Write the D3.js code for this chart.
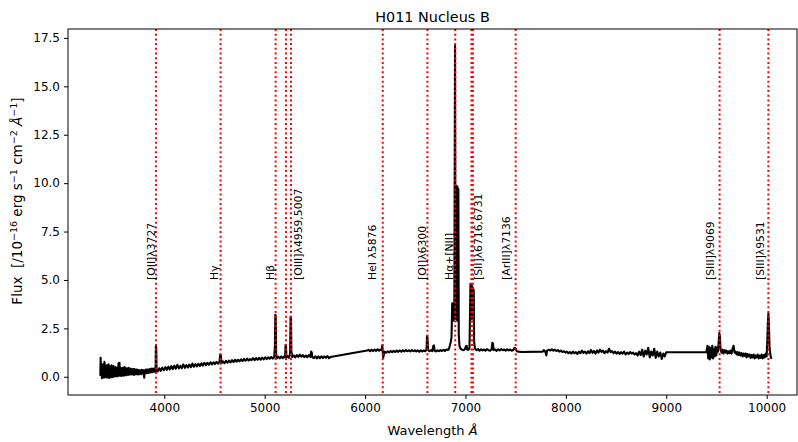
<!DOCTYPE html>
<html><head><meta charset="utf-8">
<script src="https://cdn.jsdelivr.net/npm/d3@7"></script>
<style>body{margin:0;background:#fff} text{font-family:"DejaVu Sans",sans-serif;fill:#000}</style>
</head><body><svg id="chart" width="798" height="442"></svg>
<script>
const title = "H011 Nucleus B";
const xLabel = "Wavelength ";
const xTicks = [4000, 5000, 6000, 7000, 8000, 9000, 10000];
const yTicks = [0, 2.5, 5, 7.5, 10, 12.5, 15, 17.5];
const xDomain = [3041, 10302];
const yDomain = [-0.94, 17.96];

// observed (redshifted) wavelengths of marked lines
const lineWavelengths = [3917, 4561, 5109, 5212, 5262, 6176, 6621, 6898, 7059, 7074, 7500, 9531, 10017];
const labelTexts = ["[OII]λ3727", "Hγ", "Hβ", "[OIII]λ4959,5007", "HeI λ5876", "[OI]λ6300", "Hα+[NII]", "[SII]λ6716,6731", "[ArIII]λ7136", "[SIII]λ9069", "[SIII]λ9531"];
const labelWavelengths = [3908, 4540, 5097, 5372, 6110, 6610, 6873, 7168, 7443, 9474, 9972];
const labelFlux = 5.0;

const spectrum = [
[3363,0.05],[3366,0.98],[3369,0.1],[3374,0.6],[3379,-0.07],[3384,0.65],[3389,-0.02],[3394,0.52],[3399,-0.05],[3404,0.78],
[3409,0.0],[3414,0.55],[3419,-0.02],[3424,0.6],[3429,-0.04],[3434,0.5],[3439,0.0],[3444,0.65],[3449,-0.06],[3454,0.55],
[3459,0.0],[3464,0.48],[3469,-0.03],[3474,0.6],[3479,0.04],[3484,0.5],[3489,-0.02],[3494,0.55],[3499,0.06],[3504,0.45],
[3509,0.02],[3514,0.5],[3519,0.05],[3524,0.44],[3529,0.02],[3534,0.48],[3539,0.06],[3544,0.7],[3549,0.05],[3554,0.72],
[3559,0.08],[3564,0.45],[3569,0.05],[3574,0.42],[3579,0.06],[3584,0.46],[3589,0.08],[3594,0.4],[3599,0.06],[3604,0.5],
[3609,0.1],[3614,0.42],[3619,0.08],[3624,0.44],[3629,0.12],[3634,0.4],[3639,0.1],[3644,0.46],[3649,0.12],[3654,0.4],
[3659,0.12],[3664,0.42],[3669,0.14],[3674,0.38],[3679,0.12],[3684,0.4],[3689,0.15],[3694,0.37],[3699,0.1],[3704,0.4],
[3709,0.14],[3714,0.34],[3719,0.13],[3724,0.38],[3729,0.16],[3734,0.36],[3739,0.12],[3744,0.34],[3749,0.14],[3754,0.34],
[3761,0.16],[3766,0.34],[3771,0.13],[3776,0.36],[3781,0.18],[3786,0.34],[3791,0.16],[3796,0.33],[3800,-0.05],[3804,0.22],
[3811,0.18],[3816,0.38],[3821,0.18],[3826,0.36],[3831,0.2],[3836,0.38],[3841,0.2],[3846,0.37],[3851,0.22],[3856,0.4],
[3861,0.22],[3866,0.38],[3871,0.24],[3876,0.42],[3881,0.24],[3886,0.4],[3891,0.26],[3896,0.42],[3901,0.26],[3906,0.44],
[3911,0.28],[3914,0.45],[3916,1.57],[3920,1.5],[3923,0.42],[3929,0.3],
[3935,0.28],[3950,0.44],[3965,0.31],[3980,0.47],[3995,0.34],[4010,0.5],[4025,0.36],[4040,0.52],[4055,0.38],[4070,0.55],
[4085,0.4],[4100,0.57],[4115,0.42],[4130,0.62],[4145,0.43],[4160,0.57],[4175,0.45],[4190,0.64],[4205,0.46],[4220,0.6],
[4235,0.48],[4250,0.63],[4265,0.5],[4280,0.68],[4295,0.52],[4310,0.65],[4325,0.54],[4340,0.67],[4355,0.56],[4370,0.7],
[4385,0.58],[4400,0.72],[4415,0.6],[4430,0.72],[4445,0.62],[4460,0.75],[4475,0.64],[4490,0.75],[4505,0.66],[4520,0.77],
[4535,0.68],[4550,0.78],[4557,1.15],[4563,1.1],[4571,0.7],[4585,0.8],[4600,0.7],[4615,0.82],[4630,0.73],[4645,0.84],
[4660,0.74],[4675,0.86],[4690,0.76],[4705,0.88],[4720,0.78],[4735,0.88],[4750,0.8],[4765,0.9],[4780,0.81],[4795,0.92],
[4810,0.83],[4825,0.94],[4840,0.84],[4855,0.92],[4870,0.86],[4885,0.96],[4900,0.86],[4915,0.97],[4930,0.88],[4945,0.98],
[4960,0.88],[4975,0.99],[4990,0.9],[5005,1.0],[5020,0.91],[5035,1.01],[5050,0.93],[5065,1.02],[5080,0.94],[5095,1.02],
[5102,1.6],[5106,3.2],[5110,3.15],[5114,1.2],[5120,0.96],[5135,1.04],[5150,0.95],[5165,1.05],[5180,0.96],[5195,1.06],
[5204,1.0],[5208,1.65],[5212,1.6],[5217,1.0],[5228,1.07],[5243,0.98],[5253,1.2],[5258,3.1],[5262,3.05],[5266,1.3],
[5275,1.02],[5290,1.1],[5305,1.0],[5320,1.12],[5335,1.03],[5350,1.14],[5365,1.04],[5380,1.12],[5395,1.02],[5410,1.1],
[5425,1.01],[5440,1.12],[5455,1.03],[5463,1.3],[5469,1.25],[5475,1.02],[5490,0.96],[5505,1.06],[5520,0.95],[5535,1.05],
[5550,0.96],[5565,1.06],[5580,0.97],[5595,1.05],[5610,0.98],[5625,1.07],[5640,0.96],[5655,1.02],
[6020,1.36],[6035,1.39],[6050,1.32],[6065,1.4],[6080,1.33],[6095,1.41],[6110,1.34],[6125,1.42],[6140,1.35],[6155,1.41],
[6165,1.38],[6171,1.63],[6176,1.3],[6181,0.99],[6187,1.15],[6195,1.3],[6210,1.24],[6225,1.31],[6240,1.26],[6255,1.33],
[6270,1.27],[6285,1.34],[6300,1.28],[6315,1.35],[6330,1.29],[6345,1.36],[6360,1.3],[6375,1.37],[6390,1.31],[6405,1.38],
[6420,1.32],[6435,1.37],[6450,1.31],[6465,1.38],[6480,1.32],[6495,1.37],[6510,1.31],[6525,1.36],[6540,1.29],[6555,1.37],
[6570,1.31],[6585,1.36],[6600,1.32],[6612,1.4],[6617,2.1],[6622,2.0],[6627,1.4],[6640,1.32],[6655,1.37],[6670,1.33],
[6680,1.6],[6686,1.62],[6692,1.35],[6705,1.31],[6720,1.37],[6735,1.32],[6750,1.38],[6765,1.33],[6780,1.39],[6795,1.34],
[6810,1.41],[6825,1.38],[6836,1.45],[6851,1.75],[6861,2.05],[6868,3.8],[6873,3.6],[6881,2.9],[6889,3.2],[6896,17.1],
[6901,3.0],[6905,9.85],[6909,3.0],[6913,9.85],[6917,2.9],[6921,9.8],[6925,3.2],[6929,9.7],[6933,2.2],[6940,1.6],
[6950,1.45],[6965,1.4],[6980,1.37],[6995,1.43],[7005,1.58],[7012,1.6],[7018,1.4],[7030,1.4],[7040,1.5],[7046,3.5],
[7050,4.8],[7054,3.3],[7058,4.75],[7062,3.0],[7066,4.7],[7070,3.2],[7074,4.6],[7078,3.0],[7082,4.5],[7086,1.8],
[7095,1.45],[7110,1.37],[7125,1.43],[7140,1.35],[7155,1.42],[7170,1.36],[7185,1.41],[7200,1.35],[7215,1.43],[7230,1.37],
[7245,1.35],[7260,1.41],[7268,1.75],[7274,1.72],[7280,1.38],[7295,1.41],[7310,1.34],[7325,1.42],[7340,1.36],[7355,1.43],
[7370,1.37],[7385,1.41],[7400,1.35],[7415,1.42],[7430,1.36],[7445,1.41],[7460,1.35],[7475,1.38],[7490,1.5],[7500,1.45],
[7510,1.32],[7530,1.3],[7560,1.28],[7770,1.3],
[7780,1.38],[7795,1.3],[7805,1.1],[7812,1.35],[7830,1.4],[7845,1.36],[7860,1.42],[7875,1.35],[7890,1.4],[7905,1.33],
[7920,1.38],[7935,1.3],[7950,1.35],[7965,1.28],[7980,1.32],[7995,1.25],[8010,1.3],[8025,1.22],[8040,1.28],[8055,1.2],
[8070,1.3],[8085,1.22],[8100,1.27],[8115,1.18],[8130,1.3],[8145,1.22],[8160,1.35],[8175,1.24],[8190,1.3],[8205,1.2],
[8220,1.32],[8235,1.22],[8250,1.38],[8265,1.24],[8280,1.33],[8295,1.2],[8310,1.36],[8325,1.25],[8340,1.4],[8355,1.28],
[8370,1.35],[8385,1.22],[8400,1.32],[8415,1.25],[8430,1.45],[8445,1.27],[8460,1.33],[8475,1.22],[8490,1.3],[8505,1.2],
[8520,1.28],[8535,1.18],[8550,1.27],[8565,1.2],[8580,1.3],[8595,1.15],[8610,1.25],[8625,1.18],[8640,1.28],[8655,1.2],
[8670,1.25],[8685,1.15],[8700,1.22],[8715,1.1],[8730,1.3],[8745,1.12],[8760,1.4],[8775,1.05],[8790,1.35],[8805,1.15],
[8820,1.5],[8835,1.0],[8850,1.3],[8865,1.1],[8880,1.45],[8895,0.98],[8910,1.3],[8925,1.05],[8940,1.25],[8955,0.92],
[8970,1.2],[8985,1.05],[9000,1.27],[9400,1.27],
[9410,1.6],[9418,0.95],[9426,1.55],[9434,0.9],[9442,1.5],[9450,1.0],[9458,1.6],[9466,0.95],[9474,1.45],[9482,1.05],
[9490,1.55],[9498,1.1],[9506,1.5],[9514,1.3],[9522,1.8],[9528,2.26],[9534,2.1],[9540,1.45],[9550,1.25],[9560,1.4],
[9570,1.2],[9580,1.38],[9590,1.25],[9600,1.35],[9610,1.2],[9620,1.32],[9630,1.22],[9640,1.35],[9650,1.2],[9660,1.45],
[9670,1.6],[9680,1.25],[9690,1.3],[9700,1.15],[9710,1.28],[9720,1.12],[9730,1.25],[9740,1.1],[9750,1.22],[9760,1.05],
[9770,1.2],[9780,1.08],[9790,1.2],[9800,1.0],[9810,1.18],[9820,1.05],[9830,1.15],[9840,0.98],[9850,1.12],[9860,1.0],
[9870,1.15],[9880,0.95],[9890,1.1],[9900,1.0],[9910,1.15],[9920,0.95],[9930,1.1],[9940,0.98],[9950,1.15],[9960,0.95],
[9970,1.12],[9980,1.0],[9990,1.2],[10000,1.05],[10006,1.8],[10012,2.8],[10017,3.26],[10022,2.7],[10028,1.6],[10035,1.2],
[10042,1.0],[10050,0.93]
];

const W = 798, H = 442;
const margin = {top: 29, right: 1, bottom: 47, left: 68};
const svg = d3.select("#chart");
const x = d3.scaleLinear().domain(xDomain).range([margin.left, W - margin.right]);
const y = d3.scaleLinear().domain(yDomain).range([H - margin.bottom, margin.top]);

svg.append("clipPath").attr("id", "plotclip").append("rect")
  .attr("x", margin.left).attr("y", margin.top)
  .attr("width", W - margin.left - margin.right).attr("height", H - margin.top - margin.bottom);

const plot = svg.append("g").attr("clip-path", "url(#plotclip)");

plot.append("path").datum(spectrum)
  .attr("fill", "none").attr("stroke", "#000").attr("stroke-width", 2.1)
  .attr("stroke-linejoin", "round")
  .attr("d", d3.line().x(d => x(d[0])).y(d => y(d[1])));

plot.selectAll("line.em").data(lineWavelengths).join("line")
  .attr("class", "em")
  .attr("x1", d => x(d)).attr("x2", d => x(d))
  .attr("y1", margin.top).attr("y2", H - margin.bottom)
  .attr("stroke", "#ff0000").attr("stroke-width", 2)
  .attr("stroke-dasharray", "2,2.7");

svg.selectAll("text.lbl").data(labelTexts).join("text")
  .attr("class", "lbl")
  .attr("transform", (d, i) => `translate(${x(labelWavelengths[i])},${y(labelFlux)}) rotate(-90)`)
  .attr("font-size", "10.8px")
  .text(d => d);

svg.append("rect")
  .attr("x", margin.left).attr("y", margin.top)
  .attr("width", W - margin.left - margin.right).attr("height", H - margin.top - margin.bottom)
  .attr("fill", "none").attr("stroke", "#000").attr("stroke-width", 1);

const xAxis = svg.append("g").attr("transform", `translate(0,${H - margin.bottom})`)
  .call(d3.axisBottom(x).tickValues(xTicks).tickFormat(d3.format("d")).tickSize(4).tickPadding(4));
const yAxis = svg.append("g").attr("transform", `translate(${margin.left},0)`)
  .call(d3.axisLeft(y).tickValues(yTicks).tickFormat(d3.format(".1f")).tickSize(4).tickPadding(4));
[xAxis, yAxis].forEach(a => {
  a.select(".domain").remove();
  a.selectAll("text").attr("font-size", "12px").attr("font-family", "DejaVu Sans").attr("fill", "#000");
  a.selectAll("line").attr("stroke", "#000");
});

svg.append("text").attr("x", (margin.left + W - margin.right) / 2).attr("y", 22)
  .attr("text-anchor", "middle").attr("font-size", "14.4px").text(title);

const xl = svg.append("text").attr("x", (margin.left + W - margin.right) / 2).attr("y", 435)
  .attr("text-anchor", "middle").attr("font-size", "13px");
xl.append("tspan").text(xLabel.replace(" ", "\u00a0"));
xl.append("tspan").attr("font-style", "italic").text("Å");

const yl = svg.append("text")
  .attr("transform", `translate(22,201) rotate(-90)`)
  .attr("text-anchor", "middle").attr("font-size", "13.5px");
const parts = [
  ["Flux\u00a0\u00a0[/10", 0, false], ["−16", 1, false], ["\u00a0erg\u00a0s", 0, false], ["−1", 1, false],
  ["\u00a0cm", 0, false], ["−2", 1, false], ["\u00a0", 0, false], ["Å", 0, true], ["−1", 1, false], ["]", 0, false]
];
let prevSup = 0;
parts.forEach(([t, sup, it]) => {
  const ts = yl.append("tspan").text(t);
  const dy = sup ? (prevSup ? 0 : -5.5) : (prevSup ? 5.5 : 0);
  if (dy) ts.attr("dy", dy);
  if (sup) ts.attr("font-size", "9.5px");
  if (it) ts.attr("font-style", "italic");
  prevSup = sup;
});
</script></body></html>
